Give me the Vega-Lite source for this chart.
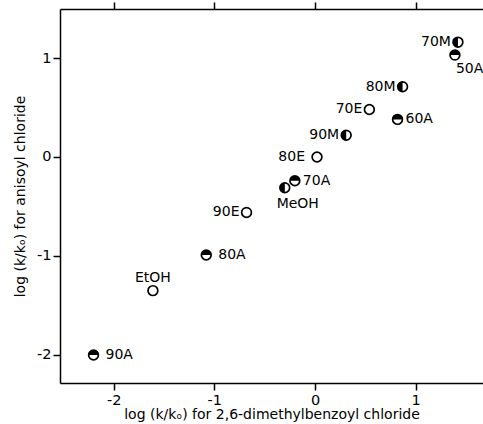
{
  "$schema": "https://vega.github.io/schema/vega-lite/v6.json",
  "width": 423,
  "height": 374,
  "autosize": "none",
  "padding": {"left": 60, "top": 9, "right": 0, "bottom": 41},
  "background": "white",
  "config": {
    "view": {"stroke": null},
    "font": "DejaVu Sans",
    "axis": {
      "grid": false,
      "domainColor": "black",
      "domainWidth": 1.5,
      "tickColor": "black",
      "tickWidth": 1.5,
      "tickSize": 7,
      "labelColor": "black",
      "labelFont": "DejaVu Sans",
      "labelFontSize": 14.5,
      "titleColor": "black",
      "titleFont": "DejaVu Sans",
      "titleFontSize": 14,
      "titleFontWeight": "normal"
    }
  },
  "data": {
    "values": [
      {"x": -2.2, "y": -2.0, "label": "90A", "type": "A"},
      {"x": -1.61, "y": -1.35, "label": "EtOH", "type": "open"},
      {"x": -1.08, "y": -0.99, "label": "80A", "type": "A"},
      {"x": -0.68, "y": -0.56, "label": "90E", "type": "open"},
      {"x": -0.3, "y": -0.31, "label": "MeOH", "type": "M"},
      {"x": -0.2, "y": -0.24, "label": "70A", "type": "A"},
      {"x": 0.02, "y": 0.0, "label": "80E", "type": "open"},
      {"x": 0.31, "y": 0.22, "label": "90M", "type": "M"},
      {"x": 0.54, "y": 0.48, "label": "70E", "type": "open"},
      {"x": 0.82, "y": 0.38, "label": "60A", "type": "A"},
      {"x": 0.87, "y": 0.71, "label": "80M", "type": "M"},
      {"x": 1.42, "y": 1.16, "label": "70M", "type": "M"},
      {"x": 1.39, "y": 1.03, "label": "50A", "type": "A"}
    ]
  },
  "layer": [
    {
      "mark": {"type": "point", "shape": "circle", "filled": false, "fill": "white", "stroke": "black", "strokeWidth": 1.7, "size": 95, "opacity": 1},
      "encoding": {
        "x": {
          "field": "x", "type": "quantitative",
          "scale": {"domain": [-2.533, 1.669], "nice": false, "zero": false},
          "axis": {"orient": "bottom", "values": [-2, -1, 0, 1], "labelExpr": "datum.value + ''", "labelPadding": 3,
                   "title": "log (k/kₒ) for 2,6-dimethylbenzoyl chloride", "titlePadding": 1,
                   "encode": {"ticks": {"update": {"y2": {"value": -7}}}}}
        },
        "y": {
          "field": "y", "type": "quantitative",
          "scale": {"domain": [-2.283, 1.495], "nice": false, "zero": false},
          "axis": {"values": [-2, -1, 0, 1], "labelExpr": "datum.value + ''", "labelPadding": 2,
                   "title": "log (k/kₒ) for anisoyl chloride", "titlePadding": 9,
                   "encode": {"ticks": {"update": {"x2": {"value": 7}}}}}
        }
      }
    },
    {
      "layer": [
        {
          "transform": [{"filter": "datum.type == 'A'"}],
          "mark": {"type": "point", "shape": "M-1,0A1,1,0,0,1,1,0Z", "filled": true, "color": "black", "size": 95, "opacity": 1}
        },
        {
          "transform": [{"filter": "datum.type == 'M'"}],
          "mark": {"type": "point", "shape": "M0,-1A1,1,0,0,0,0,1Z", "filled": true, "color": "black", "size": 95, "opacity": 1}
        },
        {
          "transform": [{"filter": "indexof(['70M','80M','70E','90M','90E'], datum.label) >= 0"}],
          "mark": {"type": "text", "align": "right", "baseline": "middle", "dx": -7, "fontSize": 14, "color": "black"},
          "encoding": {"text": {"field": "label"}}
        },
        {
          "transform": [{"filter": "datum.label == '80E'"}],
          "mark": {"type": "text", "align": "right", "baseline": "middle", "dx": -12, "fontSize": 14, "color": "black"},
          "encoding": {"text": {"field": "label"}}
        },
        {
          "transform": [{"filter": "indexof(['60A','70A'], datum.label) >= 0"}],
          "mark": {"type": "text", "align": "left", "baseline": "middle", "dx": 8, "fontSize": 14, "color": "black"},
          "encoding": {"text": {"field": "label"}}
        },
        {
          "transform": [{"filter": "indexof(['80A','90A'], datum.label) >= 0"}],
          "mark": {"type": "text", "align": "left", "baseline": "middle", "dx": 12, "fontSize": 14, "color": "black"},
          "encoding": {"text": {"field": "label"}}
        },
        {
          "transform": [{"filter": "datum.label == '50A'"}],
          "mark": {"type": "text", "align": "left", "baseline": "middle", "dx": 1, "dy": 14, "fontSize": 14, "color": "black"},
          "encoding": {"text": {"field": "label"}}
        },
        {
          "transform": [{"filter": "datum.label == 'MeOH'"}],
          "mark": {"type": "text", "align": "center", "baseline": "middle", "dx": 13, "dy": 16, "fontSize": 14, "color": "black"},
          "encoding": {"text": {"field": "label"}}
        },
        {
          "transform": [{"filter": "datum.label == 'EtOH'"}],
          "mark": {"type": "text", "align": "center", "baseline": "middle", "dy": -13, "fontSize": 14, "color": "black"},
          "encoding": {"text": {"field": "label"}}
        }
      ],
      "encoding": {
        "x": {"field": "x", "type": "quantitative",
              "axis": {"orient": "top", "values": [-2, -1, 0, 1], "labels": false, "title": null,
                       "encode": {"ticks": {"update": {"y2": {"value": 7}}}}}},
        "y": {"field": "y", "type": "quantitative", "axis": null}
      }
    }
  ],
  "resolve": {"axis": {"x": "independent", "y": "independent"}}
}
